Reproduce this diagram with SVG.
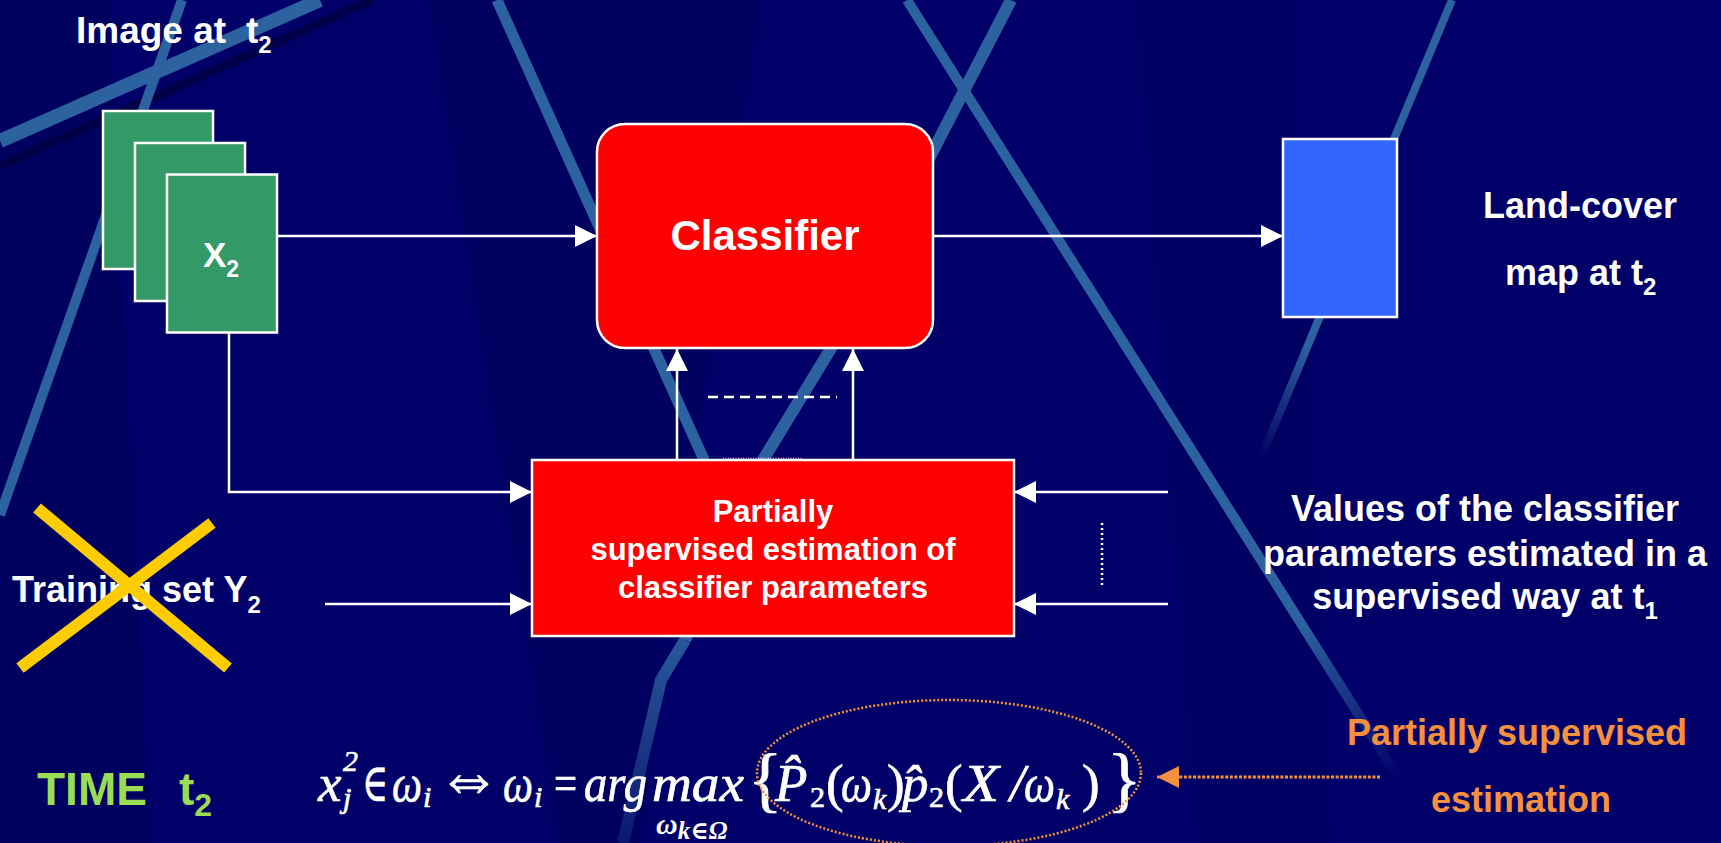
<svg xmlns="http://www.w3.org/2000/svg" width="1721" height="843" viewBox="0 0 1721 843">
<defs>
<style>
.lbl{font-family:"Liberation Sans",Arial,sans-serif;font-weight:bold;fill:#ffffff}
.band{fill:none;stroke:#2D62A0;stroke-linecap:butt;stroke-linejoin:round}
.conn{fill:none;stroke:#ffffff;stroke-width:2.5}
.img{fill:#339966;stroke:#ffffff;stroke-width:2.5}
.math{font-family:"Liberation Serif","Times New Roman","DejaVu Serif",serif;font-style:italic;fill:#ffffff;stroke:#ffffff;stroke-width:0.7px;font-size:53px}
.up{font-style:normal}
.sm{font-size:30px}
</style>
<marker id="ah" markerUnits="userSpaceOnUse" markerWidth="22" markerHeight="22" refX="22" refY="11" orient="auto"><path d="M0,0 L22,11 L0,22 z" fill="#ffffff"/></marker>
<marker id="ahO" markerUnits="userSpaceOnUse" markerWidth="22" markerHeight="22" refX="22" refY="11" orient="auto"><path d="M0,0 L22,11 L0,22 z" fill="#F5913E"/></marker>
<linearGradient id="gE" gradientUnits="userSpaceOnUse" x1="907" y1="0" x2="1400" y2="780"><stop offset="0" stop-color="#2D62A0"/><stop offset="0.8" stop-color="#2D62A0"/><stop offset="1" stop-color="#2D62A0" stop-opacity="0"/></linearGradient>
<linearGradient id="gF" gradientUnits="userSpaceOnUse" x1="1452" y1="0" x2="1260" y2="460"><stop offset="0" stop-color="#2D62A0"/><stop offset="0.75" stop-color="#2D62A0"/><stop offset="1" stop-color="#2D62A0" stop-opacity="0"/></linearGradient>
<linearGradient id="gD" gradientUnits="userSpaceOnUse" x1="0" y1="640" x2="0" y2="843"><stop offset="0" stop-color="#2D62A0" stop-opacity="0.9"/><stop offset="1" stop-color="#2D62A0" stop-opacity="0.25"/></linearGradient>
</defs>

<g id="background">
<rect x="0" y="0" width="1721" height="843" fill="#000068"/>
<polygon points="0,0 108,0 150,843 0,843" fill="#00004E" opacity="0.35"/>
<polygon points="430,0 760,0 640,843 560,843" fill="#00004E" opacity="0.3"/>
<polygon points="1140,0 1290,0 1330,843 1200,843" fill="#00004E" opacity="0.25"/>
<line x1="0" y1="166" x2="372" y2="0" stroke="#000048" stroke-width="9"/>
<line class="band" x1="0" y1="141" x2="320" y2="0" stroke-width="14"/>
<line class="band" x1="182" y1="0" x2="0" y2="515" stroke-width="10"/>
<line class="band" x1="497" y1="0" x2="705" y2="462" stroke-width="11"/>
<polyline class="band" points="1011,0 830,350 763,460 685,640" stroke-width="12"/>
<polyline points="685,640 661,680 623,843" fill="none" stroke="url(#gD)" stroke-width="12"/>
<line x1="907" y1="0" x2="1400" y2="780" fill="none" stroke="url(#gE)" stroke-width="10"/>
<line x1="1452" y1="0" x2="1260" y2="460" fill="none" stroke="url(#gF)" stroke-width="8"/>
</g>

<g id="connectors">
<path class="conn" d="M277,236 H597" marker-end="url(#ah)"/>
<path class="conn" d="M933,236 H1283" marker-end="url(#ah)"/>
<path class="conn" d="M229,332 V492 H532" marker-end="url(#ah)"/>
<path class="conn" d="M325,604 H532" marker-end="url(#ah)"/>
<path class="conn" d="M677,460 V349" marker-end="url(#ah)"/>
<path class="conn" d="M853,460 V349" marker-end="url(#ah)"/>
<path class="conn" d="M1168,492 H1014" marker-end="url(#ah)"/>
<path class="conn" d="M1168,604 H1014" marker-end="url(#ah)"/>
<path class="conn" d="M708,397 H837" stroke-dasharray="10 6"/>
<path class="conn" d="M1102,523 V587" stroke-width="2" stroke-dasharray="2 3"/>
<path class="conn" d="M723,459 H803" stroke-width="1.5" stroke-dasharray="1 1.5" opacity="0.8"/>
<path d="M1380,777 H1157" fill="none" stroke="#F5913E" stroke-width="3" stroke-dasharray="3 1.6" marker-end="url(#ahO)"/>
</g>

<g id="image-t2">
<text class="lbl" x="76" y="43" font-size="37">Image at<tspan x="246">t</tspan><tspan font-size="24" dy="10">2</tspan></text>
<rect class="img" x="103" y="111" width="110" height="158"/>
<rect class="img" x="135" y="143" width="110" height="158"/>
<rect class="img" x="167" y="174.5" width="110" height="158"/>
<text class="lbl" x="203" y="267" font-size="35">X<tspan font-size="23" dy="10">2</tspan></text>
</g>

<g id="classifier">
<rect x="597" y="124" width="336" height="224" rx="28" ry="28" fill="#FF0000" stroke="#ffffff" stroke-width="2.5"/>
<text class="lbl" x="765" y="250" font-size="42" text-anchor="middle">Classifier</text>
</g>

<g id="land-cover-map">
<rect x="1283" y="139" width="114" height="178" fill="#3366FF" stroke="#ffffff" stroke-width="2.5"/>
<text class="lbl" x="1580" y="218" font-size="36" text-anchor="middle">Land-cover</text>
<text class="lbl" x="1505" y="285" font-size="36">map at t<tspan font-size="24" dy="10">2</tspan></text>
</g>

<g id="partial-estimation">
<rect x="532" y="460" width="482" height="176" fill="#FF0000" stroke="#ffffff" stroke-width="2.5"/>
<text class="lbl" x="773" y="522" font-size="31" text-anchor="middle">Partially</text>
<text class="lbl" x="773" y="560" font-size="31" text-anchor="middle">supervised estimation of</text>
<text class="lbl" x="773" y="598" font-size="31" text-anchor="middle">classifier parameters</text>
</g>

<g id="training-set">
<text class="lbl" x="12" y="602" font-size="36">Training set Y<tspan font-size="24" dy="11">2</tspan></text>
<line x1="37" y1="508" x2="228" y2="668" stroke="#FFCC00" stroke-width="12"/>
<line x1="212" y1="523" x2="20" y2="668" stroke="#FFCC00" stroke-width="12"/>
</g>

<g id="t1-parameters">
<text class="lbl" x="1485" y="521" font-size="36" text-anchor="middle">Values of the classifier</text>
<text class="lbl" x="1485" y="566" font-size="36" text-anchor="middle">parameters estimated in a</text>
<text class="lbl" x="1485" y="609" font-size="36" text-anchor="middle">supervised way at t<tspan font-size="24" dy="10">1</tspan></text>
</g>

<g id="time-label">
<text class="lbl" x="37" y="805" font-size="46" style="fill:#99DD55">TIME<tspan x="179">t</tspan><tspan font-size="32" dy="11">2</tspan></text>
</g>

<g id="formula">
<text class="math" x="318" y="801">x</text>
<text class="math sm" x="343" y="771">2</text>
<text class="math sm" x="343" y="808">j</text>
<text class="math up" x="362" y="801" textLength="26" lengthAdjust="spacingAndGlyphs">∈</text>
<text class="math" x="392" y="801" textLength="30" lengthAdjust="spacingAndGlyphs">ω</text>
<text class="math sm" x="423" y="807">i</text>
<text class="math up" x="437" y="801" style="font-size:74px" textLength="64" lengthAdjust="spacingAndGlyphs">⇔</text>
<text class="math" x="503" y="801" textLength="30" lengthAdjust="spacingAndGlyphs">ω</text>
<text class="math sm" x="534" y="807">i</text>
<text class="math up" x="554" y="801" textLength="23" lengthAdjust="spacingAndGlyphs">=</text>
<text class="math" x="584" y="801" textLength="63" lengthAdjust="spacingAndGlyphs">arg</text>
<text class="math" x="652" y="801" textLength="92" lengthAdjust="spacingAndGlyphs">max</text>
<text class="math up" x="748" y="803" style="font-size:72px">{</text>
<text class="math" x="775" y="801">P̂</text>
<text class="math up sm" x="810" y="807">2</text>
<text class="math up" x="826" y="801">(</text>
<text class="math" x="841" y="801" textLength="31" lengthAdjust="spacingAndGlyphs">ω</text>
<text class="math sm" x="873" y="809">k</text>
<text class="math up" x="887" y="801">)</text>
<text class="math" x="902" y="801">p̂</text>
<text class="math up sm" x="929" y="807">2</text>
<text class="math up" x="945" y="801">(</text>
<text class="math" x="963" y="801" textLength="36" lengthAdjust="spacingAndGlyphs">X</text>
<text class="math" x="1010" y="801">/</text>
<text class="math" x="1024" y="801" textLength="31" lengthAdjust="spacingAndGlyphs">ω</text>
<text class="math sm" x="1056" y="809">k</text>
<text class="math up" x="1082" y="801">)</text>
<text class="math up" x="1107" y="803" style="font-size:72px">}</text>
<text class="math" x="656" y="834" style="font-size:30px;font-weight:bold;stroke-width:0">ω<tspan style="font-size:25px" dy="5">k∈Ω</tspan></text>
<ellipse cx="949" cy="773" rx="192" ry="73" fill="none" stroke="#F5913E" stroke-width="2.5" stroke-dasharray="2 2"/>
</g>

<g id="partial-label">
<text class="lbl" x="1517" y="745" font-size="36" text-anchor="middle" style="fill:#F5913E">Partially supervised</text>
<text class="lbl" x="1521" y="812" font-size="36" text-anchor="middle" style="fill:#F5913E">estimation</text>
</g>
</svg>
